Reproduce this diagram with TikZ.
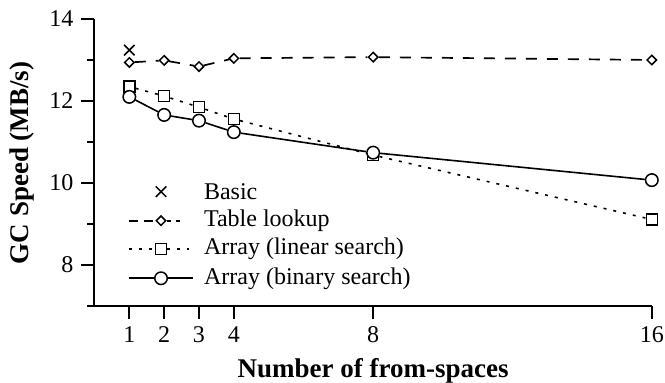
\documentclass[tikz,border=0pt]{standalone}
\usepackage{fontspec}
\setmainfont{Liberation Serif}
\usepackage{tikz}
\usetikzlibrary{shapes.geometric,shapes.misc}
\tikzstyle{axisline}=[line width=2pt]
\tikzstyle{dmark}=[diamond,draw,fill=white,inner sep=0pt,minimum size=10pt,line width=1.5pt]
\tikzstyle{smark}=[rectangle,draw,fill=white,inner sep=0pt,minimum size=11pt,line width=1.5pt]
\tikzstyle{cmark}=[circle,draw,fill=white,inner sep=0pt,minimum size=12.5pt,line width=1.5pt]
\tikzstyle{xmark}=[cross out,draw,inner sep=0pt,minimum size=9pt,line width=1.5pt]
\tikzstyle{lookup}=[line width=1.7pt,dash pattern=on 11pt off 10pt]
\tikzstyle{linear}=[line width=1.6pt,dash pattern=on 3pt off 7pt]
\tikzstyle{binary}=[line width=1.6pt]
\tikzstyle{ticklabel}=[inner sep=0pt]
\tikzstyle{axistitle}=[font=\bfseries\fontsize{27}{32}\selectfont]

\begin{document}
\begin{tikzpicture}[x=34.83pt,y=41pt,font=\fontsize{24}{28}\selectfont]
  \useasboundingbox (-2.713,5.146) rectangle (16.379,14.463);

  % axes
  \draw[axisline] (0,14) -- (0,7) -- (16,7);
  \foreach \y in {8,10,12,14} {
    \draw[axisline] (0,\y) -- ++(-13pt,0);
    \node[ticklabel,anchor=east] (yl\y) at ([xshift=-21pt]0,\y) {\y};
  }
  \foreach \y in {7,9,11,13}
    \draw[axisline] (0,\y) -- ++(-7pt,0);
  \foreach \x in {1,2,3,4,8,16} {
    \draw[axisline] (\x,7) -- ++(0,-13pt);
    \node[ticklabel,anchor=north] (xl\x) at ([yshift=-20.5pt]\x,7) {\x};
  }
  \node[axistitle,anchor=base] (xtitle) at ([yshift=-72pt]8,7) {Number of from-spaces};
  \node[axistitle,anchor=base,rotate=90] (ytitle) at (-1.909,10.49) {GC Speed (MB/s)};

  % table lookup
  \foreach \n/\x/\y in {1/1/12.94,2/2/12.99,3/3/12.84,4/4/13.04,5/8/13.07,6/16/13.0}
    \node[dmark] (d\n) at (\x,\y) {};
  \foreach \a/\b in {1/2,2/3,3/4,4/5,5/6}
    \draw[lookup] (d\a) -- (d\b);

  % array, linear search
  \foreach \n/\x/\y in {1/1/12.35,2/2/12.12,3/3/11.85,4/4/11.56,5/8/10.68,6/16/9.11}
    \node[smark] (s\n) at (\x,\y) {};
  \foreach \a/\b in {1/2,2/3,3/4,4/5,5/6}
    \draw[linear] (s\a) -- (s\b);

  % array, binary search
  \foreach \n/\x/\y in {1/1/12.10,2/2/11.66,3/3/11.52,4/4/11.24,5/8/10.74,6/16/10.07}
    \node[cmark] (c\n) at (\x,\y) {};
  \foreach \a/\b in {1/2,2/3,3/4,4/5,5/6}
    \draw[binary] (c\a) -- (c\b);

  % basic
  \node[xmark] (b1) at (1,13.24) {};

  % legend
  \node[xmark] (lgb) at (1.91,9.788) {};
  \node[anchor=west,inner sep=0pt] (tb) at (3.14,9.788) {Basic};

  \coordinate (lgd0) at (0.99,9.080);
  \coordinate (lgd1) at (2.55,9.080);
  \node[dmark] (lgd) at (1.91,9.080) {};
  \draw[lookup,dash pattern=on 9pt off 6pt] (lgd0) -- (lgd);
  \draw[lookup,dash pattern=on 4pt off 5pt] (lgd) -- (lgd1);
  \node[anchor=west,inner sep=0pt] (td) at (3.14,9.080) {Table lookup};

  \coordinate (lgs0) at (0.99,8.390);
  \coordinate (lgs1) at (2.70,8.390);
  \node[smark] (lgs) at (1.91,8.390) {};
  \draw[linear] (lgs0) -- (lgs);
  \draw[linear] (lgs) -- (lgs1);
  \node[anchor=west,inner sep=0pt] (ts) at (3.14,8.390) {Array (linear search)};

  \coordinate (lgc0) at (0.99,7.676);
  \coordinate (lgc1) at (2.83,7.676);
  \node[cmark] (lgc) at (1.91,7.676) {};
  \draw[binary] (lgc0) -- (lgc);
  \draw[binary] (lgc) -- (lgc1);
  \node[anchor=west,inner sep=0pt] (tc) at (3.14,7.676) {Array (binary search)};
\end{tikzpicture}
\end{document}
